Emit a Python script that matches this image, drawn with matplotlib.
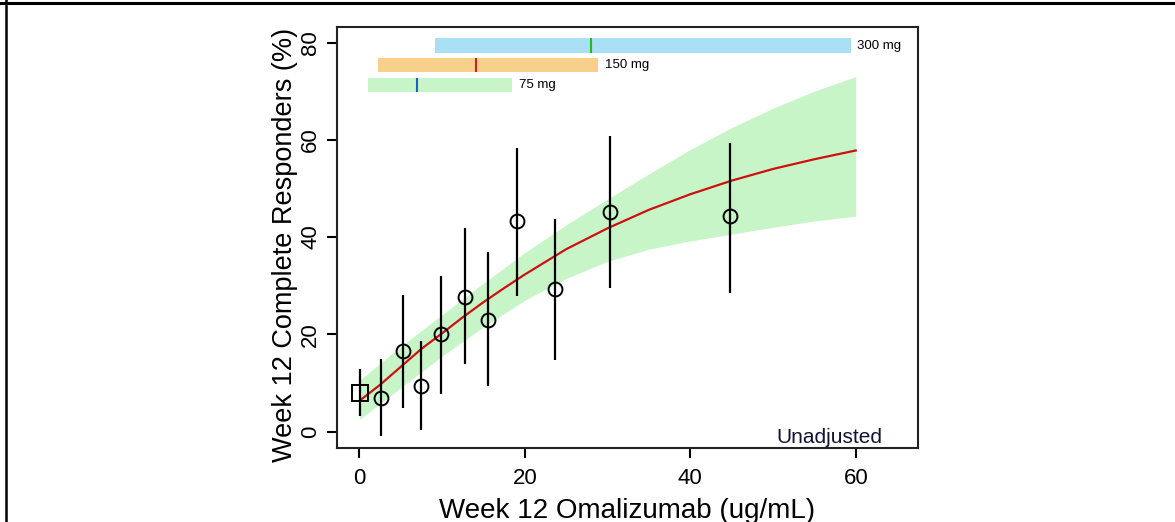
import numpy as np
import matplotlib.pyplot as plt
from matplotlib.lines import Line2D

plt.rcParams['font.family'] = ['Liberation Sans', 'DejaVu Sans']

# observed responders by concentration bin (first point = placebo)
obs_conc = [2.6, 5.3, 7.5, 9.9, 12.8, 15.5, 19.1, 23.7, 30.3, 44.8]
obs_resp = [6.8, 16.6, 9.4, 20.0, 27.7, 22.9, 43.2, 29.3, 45.2, 44.3]
obs_lo = [-0.9, 4.8, 0.3, 7.7, 13.8, 9.4, 27.9, 14.7, 29.6, 28.5]
obs_hi = [14.9, 28.1, 18.7, 31.9, 41.8, 36.9, 58.3, 43.7, 60.8, 59.4]
pbo_conc = 0.1
pbo_resp = 8.0
pbo_lo = 3.2
pbo_hi = 12.9

# model prediction with 95% band
fit_conc = [0, 2.5, 5, 7.5, 10, 12.5, 15, 17.5, 20, 25, 30, 35, 40, 45, 50, 55, 60]
fit_resp = [6.3, 9.6, 13.3, 17.0, 20.2, 23.5, 26.6, 29.5, 32.3, 37.5, 41.8, 45.6, 48.8, 51.6, 54.0, 56.0, 57.8]
band_conc = [0, 5, 10, 15, 20, 25, 30, 35, 40, 45, 50, 55, 60]
band_hi = [10.5, 17.5, 24.0, 30.5, 36.8, 42.5, 47.8, 53.0, 58.0, 62.5, 66.5, 70.0, 73.0]
band_lo = [2.5, 9.0, 15.5, 21.5, 27.0, 31.5, 35.0, 37.5, 39.2, 40.6, 42.0, 43.3, 44.3]

# concentration ranges per dose group
dose_labels = ["300 mg", "150 mg", "75 mg"]
dose_lo = [9.1, 2.3, 1.1]
dose_hi = [59.4, 28.9, 18.5]
dose_med = [28.0, 14.1, 7.0]
dose_y = [79.35, 75.35, 71.25]
dose_fill = ['#AAE0F5', '#F8D08C', '#C8F5C8']
dose_mark = ['#22BB22', '#CC2222', '#1F5FBF']

fig = plt.figure(figsize=(11.75, 5.22), dpi=100)
ax = fig.add_axes([0.2864, 0.1427, 0.4945, 0.8056])

ax.fill_between(band_conc, band_lo, band_hi, color='#C8F5C8', lw=0)
ax.plot(fit_conc, fit_resp, color='#CC1111', lw=1.6)

ax.vlines(obs_conc, obs_lo, obs_hi, color='black', lw=1.6)
ax.vlines(pbo_conc, pbo_lo, pbo_hi, color='black', lw=1.6)
ax.plot(obs_conc, obs_resp, 'o', ms=10, mfc='none', mec='black', mew=1.4)
ax.plot(pbo_conc, pbo_resp, 's', ms=11, mfc='none', mec='black', mew=1.4)

bar_h = 3.0
for lab, lo, hi, med, y, fc, mc in zip(dose_labels, dose_lo, dose_hi, dose_med,
                                        dose_y, dose_fill, dose_mark):
    ax.barh(y, hi - lo, left=lo, height=bar_h, color=fc, lw=0)
    ax.vlines(med, y - bar_h / 2, y + bar_h / 2, color=mc, lw=1.5)
    ax.text(hi + 0.8, y, lab, fontsize=9.5, va='center', ha='left')

ax.text(0.94, 0.011, "Unadjusted", transform=ax.transAxes, fontsize=15,
        ha='right', va='baseline', color='#111133')

ax.set_xlim(-2.76, 67.47)
ax.set_ylim(-3.29, 83.2)
ax.set_xticks([0, 20, 40, 60])
ax.set_yticks([0, 20, 40, 60, 80])
for s in ax.spines.values():
    s.set_linewidth(1.5)
    s.set_color('#222222')
ax.tick_params(axis='both', direction='out', length=7, width=1.5, labelsize=16)
ax.tick_params(axis='x', pad=8)
ax.tick_params(axis='y', pad=4)
for t in ax.get_yticklabels():
    t.set_rotation(90)
    t.set_va('center')

fig.text(0.534, 0.008, "Week 12 Omalizumab (ug/mL)", fontsize=20,
         ha='center', va='baseline')
fig.text(0.2426, 0.5307, "Week 12 Complete Responders (%)", fontsize=19.5,
         rotation=90, ha='center', va='center')

# frame lines around the figure
fig.add_artist(Line2D([0, 1], [0.9935, 0.9935], color='black', lw=2.2,
                      transform=fig.transFigure))
fig.add_artist(Line2D([0.0051, 0.0051], [0, 1], color='black', lw=1.8,
                      transform=fig.transFigure))

fig.savefig('out.png', dpi=100)
